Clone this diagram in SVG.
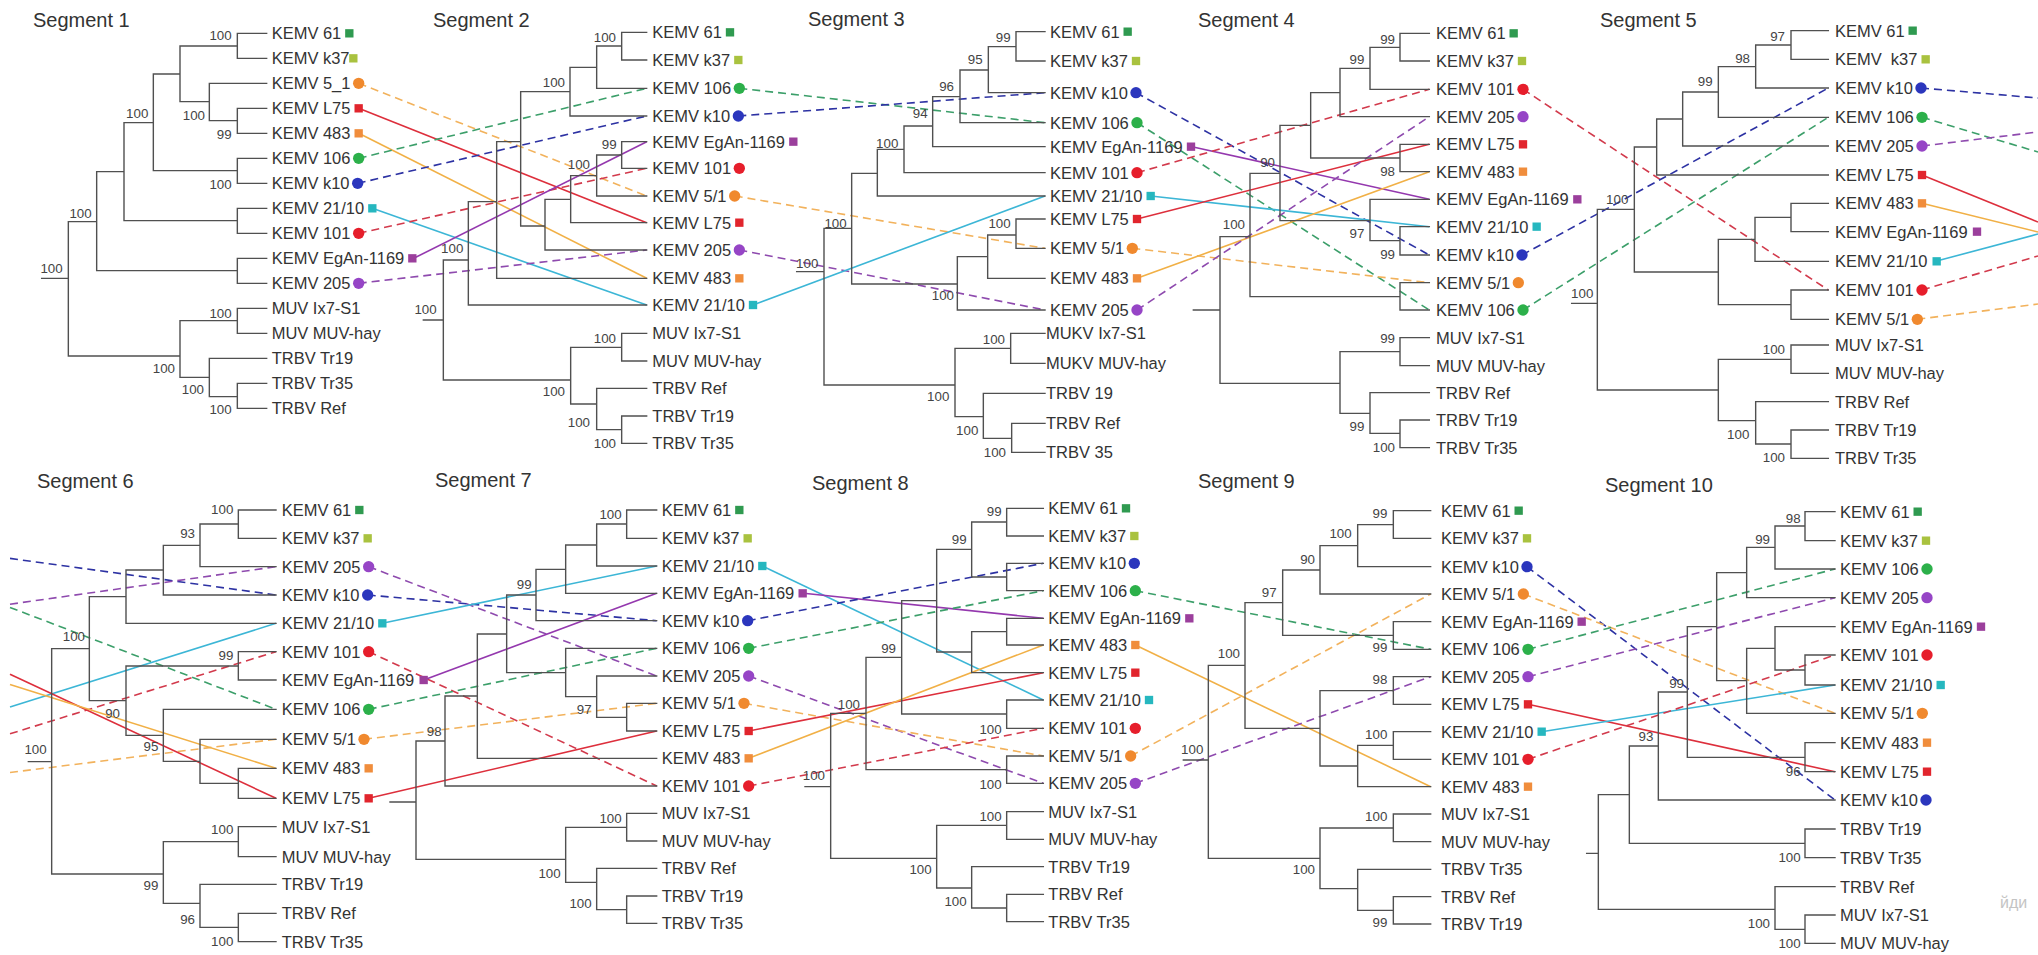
<svg xmlns="http://www.w3.org/2000/svg" xmlns:xlink="http://www.w3.org/1999/xlink" width="2038" height="955" viewBox="0 0 2038 955">
<style>
.tree{fill:none;stroke:#505050;stroke-width:4.2;stroke-linecap:square}
.lbl{font-family:"Liberation Sans",Arial,sans-serif;font-size:49.5px;fill:#333;dominant-baseline:central}
.sup{font-family:"Liberation Sans",Arial,sans-serif;font-size:40px;fill:#444;text-anchor:end;dominant-baseline:central}
.ttl{font-family:"Liberation Sans",Arial,sans-serif;font-size:20px;fill:#333}
.wm{font-family:"Liberation Sans",Arial,sans-serif;font-size:16px;fill:#c4c4c4}
#connectors line{fill:none;stroke-width:1.6}
.d{stroke-dasharray:8 5}
.f61{fill:#2f9a50}.fk37{fill:#a9c23f}.f51{fill:#f0892e}.fL75{fill:#e1252d}.f483{fill:#f08d3c}.f106{fill:#2cb04a}.fk10{fill:#2b36bd}.f2110{fill:#26b7bf}.f101{fill:#e61e2b}.fEg{fill:#9b3f9c}.f205{fill:#9645c6}
.s51{stroke:#f2b25c}.sL75{stroke:#dd2f3c}.s483{stroke:#f1b046}.s106{stroke:#3c9f6a}.sk10{stroke:#2d32a3}.s2110{stroke:#3cb6d6}.s101{stroke:#d23a4c}.sEg{stroke:#9438ae}.s205{stroke:#8e4aae}
</style>
<defs>
<rect id="sq" x="-12.5" y="-12.5" width="25" height="25"/>
<circle id="ci" r="17"/>
</defs>
<rect width="2038" height="955" fill="#fff"/>

<g id="connectors">
<line class="s51 d" x1="358.7" y1="83.3" x2="646.7" y2="196"/>
<line class="sL75" x1="358.7" y1="108.3" x2="646.7" y2="222.7"/>
<line class="s483" x1="358.7" y1="133.3" x2="646.7" y2="278.3"/>
<line class="s106 d" x1="358.7" y1="158.3" x2="646.7" y2="88.3"/>
<line class="sk10 d" x1="357.7" y1="183.3" x2="646.7" y2="116"/>
<line class="s2110" x1="372.3" y1="208.3" x2="646.7" y2="305"/>
<line class="s101 d" x1="358.7" y1="233.3" x2="646.7" y2="168.3"/>
<line class="sEg" x1="413.7" y1="258.3" x2="646.7" y2="141.7"/>
<line class="s205 d" x1="358.7" y1="283.3" x2="646.7" y2="250"/>

<line class="s106 d" x1="739.3" y1="88.3" x2="1045" y2="122.7"/>
<line class="sk10 d" x1="738.3" y1="116" x2="1045" y2="92.7"/>
<line class="s51 d" x1="734.7" y1="196" x2="1045" y2="248.3"/>
<line class="s205 d" x1="739.3" y1="250" x2="1045" y2="310"/>
<line class="s2110" x1="753" y1="305" x2="1045" y2="196"/>

<line class="sk10 d" x1="1136" y1="92.7" x2="1429.3" y2="255"/>
<line class="s106 d" x1="1137" y1="122.7" x2="1429.3" y2="310"/>
<line class="sEg" x1="1192" y1="146.7" x2="1429.3" y2="199.3"/>
<line class="s101 d" x1="1137" y1="172.7" x2="1429.3" y2="89.3"/>
<line class="s2110" x1="1150.7" y1="196" x2="1429.3" y2="226.7"/>
<line class="sL75" x1="1137" y1="219" x2="1429.3" y2="144.3"/>
<line class="s51 d" x1="1132.3" y1="248.3" x2="1429.3" y2="282.7"/>
<line class="s483" x1="1137" y1="278.3" x2="1429.3" y2="171.7"/>
<line class="s205 d" x1="1137" y1="310" x2="1429.3" y2="116.7"/>

<line class="s101 d" x1="1523" y1="89.3" x2="1828.3" y2="290"/>
<line class="sk10 d" x1="1522" y1="255" x2="1828.3" y2="88"/>
<line class="s106 d" x1="1523" y1="310" x2="1828.3" y2="117.3"/>

<line class="sk10 d" x1="1921" y1="88" x2="2038" y2="98"/>
<line class="s106 d" x1="1922" y1="117.3" x2="2038" y2="152"/>
<line class="s205 d" x1="1922" y1="146" x2="2038" y2="132"/>
<line class="sL75" x1="1922" y1="175" x2="2038" y2="222"/>
<line class="s483" x1="1922" y1="203.3" x2="2038" y2="232"/>
<line class="s2110" x1="1935.7" y1="261.3" x2="2038" y2="234"/>
<line class="s101 d" x1="1922" y1="290" x2="2038" y2="256"/>
<line class="s51 d" x1="1917.3" y1="319.3" x2="2038" y2="304"/>

<line class="sk10 d" x1="10" y1="558.4" x2="276" y2="595"/>
<line class="s205 d" x1="10" y1="604.2" x2="276" y2="566.7"/>
<line class="s106 d" x1="10" y1="607.4" x2="276" y2="709.3"/>
<line class="s2110" x1="10" y1="707.1" x2="276" y2="623.3"/>
<line class="s101 d" x1="10" y1="733.8" x2="276" y2="651.7"/>
<line class="s51 d" x1="10" y1="772.5" x2="276" y2="739.3"/>
<line class="sL75" x1="10" y1="674.2" x2="276" y2="798.3"/>
<line class="s483" x1="10" y1="684.6" x2="276" y2="768.3"/>

<line class="s205 d" x1="368.7" y1="566.7" x2="656.7" y2="676"/>
<line class="sk10 d" x1="367.7" y1="595" x2="656.7" y2="620.7"/>
<line class="s2110" x1="382.3" y1="623.3" x2="656.7" y2="566"/>
<line class="s101 d" x1="368.7" y1="651.7" x2="656.7" y2="786"/>
<line class="sEg" x1="423.7" y1="680" x2="656.7" y2="593.3"/>
<line class="s106 d" x1="368.7" y1="709.3" x2="656.7" y2="648.3"/>
<line class="s51 d" x1="364" y1="739.3" x2="656.7" y2="703.3"/>
<line class="sL75" x1="368.7" y1="798.3" x2="656.7" y2="731"/>

<line class="s2110" x1="762.3" y1="566" x2="1043.3" y2="700"/>
<line class="sEg" x1="803.7" y1="593.3" x2="1043.3" y2="618.3"/>
<line class="sk10 d" x1="747.7" y1="620.7" x2="1043.3" y2="563.3"/>
<line class="s106 d" x1="748.7" y1="648.3" x2="1043.3" y2="590.7"/>
<line class="s205 d" x1="748.7" y1="676" x2="1043.3" y2="783.3"/>
<line class="s51 d" x1="744" y1="703.3" x2="1043.3" y2="756"/>
<line class="sL75" x1="748.7" y1="731" x2="1043.3" y2="672.7"/>
<line class="s483" x1="748.7" y1="758.3" x2="1043.3" y2="645"/>
<line class="s101 d" x1="748.7" y1="786" x2="1043.3" y2="728.3"/>

<line class="s106 d" x1="1135.3" y1="590.7" x2="1430.7" y2="649.3"/>
<line class="s483" x1="1135.3" y1="645" x2="1430.7" y2="786.7"/>
<line class="s51 d" x1="1130.7" y1="756" x2="1430.7" y2="594"/>
<line class="s205 d" x1="1135.3" y1="783.3" x2="1430.7" y2="676.7"/>

<line class="sk10 d" x1="1527" y1="566.7" x2="1835" y2="800"/>
<line class="s51 d" x1="1523.3" y1="594" x2="1835" y2="713.3"/>
<line class="s106 d" x1="1528" y1="649.3" x2="1835" y2="569"/>
<line class="s205 d" x1="1528" y1="676.7" x2="1835" y2="597.7"/>
<line class="sL75" x1="1528" y1="704.3" x2="1835" y2="771.7"/>
<line class="s2110" x1="1541.7" y1="731.7" x2="1835" y2="685"/>
<line class="s101 d" x1="1528" y1="759.3" x2="1835" y2="655"/>
</g>

<g id="titles">
<text class="ttl" x="33" y="27">Segment 1</text>
<text class="ttl" x="433" y="27">Segment 2</text>
<text class="ttl" x="808" y="26">Segment 3</text>
<text class="ttl" x="1198" y="27">Segment 4</text>
<text class="ttl" x="1600" y="27">Segment 5</text>
<text class="ttl" x="37" y="488">Segment 6</text>
<text class="ttl" x="435" y="487">Segment 7</text>
<text class="ttl" x="812" y="490">Segment 8</text>
<text class="ttl" x="1198" y="488">Segment 9</text>
<text class="ttl" x="1605" y="492">Segment 10</text>
</g>

<g id="segment-1" transform="translate(0,0) scale(0.333333)">
<path class="tree" d="M800,100H712V175H800M712,138H540V305H628M800,250H628V362H712M800,325H712V400H800M540,222H460V512H712M800,475H712V550H800M460,368H372V662H712M800,625H712V700H800M372,515H290V812H712M800,775H712V850H800M290,665H205V1068H540M205,835H125M712,962H540V1132H628M800,925H712V1000H800M800,1075H628V1190H712M800,1150H712V1225H800"/>
<text class="lbl" x="815" y="100">KEMV 61</text>
<text class="lbl" x="815" y="175">KEMV k37</text>
<text class="lbl" x="815" y="250">KEMV 5_1</text>
<text class="lbl" x="815" y="325">KEMV L75</text>
<text class="lbl" x="815" y="400">KEMV 483</text>
<text class="lbl" x="815" y="475">KEMV 106</text>
<text class="lbl" x="815" y="550">KEMV k10</text>
<text class="lbl" x="815" y="625">KEMV 21/10</text>
<text class="lbl" x="815" y="700">KEMV 101</text>
<text class="lbl" x="815" y="775">KEMV EgAn-1169</text>
<text class="lbl" x="815" y="850">KEMV 205</text>
<text class="lbl" x="815" y="925">MUV Ix7-S1</text>
<text class="lbl" x="815" y="1000">MUV MUV-hay</text>
<text class="lbl" x="815" y="1075">TRBV Tr19</text>
<text class="lbl" x="815" y="1150">TRBV Tr35</text>
<text class="lbl" x="815" y="1225">TRBV Ref</text>
<text class="sup" x="695" y="108">100</text>
<text class="sup" x="615" y="348">100</text>
<text class="sup" x="695" y="405">99</text>
<text class="sup" x="445" y="340">100</text>
<text class="sup" x="695" y="555">100</text>
<text class="sup" x="275" y="640">100</text>
<text class="sup" x="188" y="805">100</text>
<text class="sup" x="695" y="940">100</text>
<text class="sup" x="525" y="1105">100</text>
<text class="sup" x="612" y="1170">100</text>
<text class="sup" x="695" y="1228">100</text>
<use href="#sq" x="1048" y="100" class="f61"/>
<use href="#sq" x="1060" y="175" class="fk37"/>
<use href="#ci" x="1076" y="250" class="f51"/>
<use href="#sq" x="1076" y="325" class="fL75"/>
<use href="#sq" x="1076" y="400" class="f483"/>
<use href="#ci" x="1076" y="475" class="f106"/>
<use href="#ci" x="1073" y="550" class="fk10"/>
<use href="#sq" x="1117" y="625" class="f2110"/>
<use href="#ci" x="1076" y="700" class="f101"/>
<use href="#sq" x="1237" y="775" class="fEg"/>
<use href="#ci" x="1076" y="850" class="f205"/>
</g>

<g id="segment-2" transform="translate(400,0) scale(0.333333)">
<path class="tree" d="M740,97H665V180H740M665,138H590V265H740M590,202H510V348H740M510,275H362V678H435M740,425H665V505H740M665,465H590V588H740M590,527H512V668H740M512,598H435V750H740M362,425H290V835H740M290,605H205V915H740M205,780H130V1140H512M130,960H70M665,1042H512V1212H590M740,1000H665V1083H740M740,1165H590V1289H665M740,1248H665V1330H740"/>
<text class="lbl" x="757" y="97">KEMV 61</text>
<text class="lbl" x="757" y="180">KEMV k37</text>
<text class="lbl" x="757" y="265">KEMV 106</text>
<text class="lbl" x="757" y="348">KEMV k10</text>
<text class="lbl" x="757" y="425">KEMV EgAn-1169</text>
<text class="lbl" x="757" y="505">KEMV 101</text>
<text class="lbl" x="757" y="588">KEMV 5/1</text>
<text class="lbl" x="757" y="668">KEMV L75</text>
<text class="lbl" x="757" y="750">KEMV 205</text>
<text class="lbl" x="757" y="835">KEMV 483</text>
<text class="lbl" x="757" y="915">KEMV 21/10</text>
<text class="lbl" x="757" y="1000">MUV Ix7-S1</text>
<text class="lbl" x="757" y="1083">MUV MUV-hay</text>
<text class="lbl" x="757" y="1165">TRBV Ref</text>
<text class="lbl" x="757" y="1248">TRBV Tr19</text>
<text class="lbl" x="757" y="1330">TRBV Tr35</text>
<text class="sup" x="648" y="112">100</text>
<text class="sup" x="495" y="248">100</text>
<text class="sup" x="650" y="435">99</text>
<text class="sup" x="570" y="495">100</text>
<text class="sup" x="190" y="745">100</text>
<text class="sup" x="110" y="930">100</text>
<text class="sup" x="648" y="1015">100</text>
<text class="sup" x="495" y="1175">100</text>
<text class="sup" x="570" y="1268">100</text>
<text class="sup" x="648" y="1330">100</text>
<use href="#sq" x="990" y="97" class="f61"/>
<use href="#sq" x="1015" y="180" class="fk37"/>
<use href="#ci" x="1018" y="265" class="f106"/>
<use href="#ci" x="1015" y="348" class="fk10"/>
<use href="#sq" x="1180" y="425" class="fEg"/>
<use href="#ci" x="1018" y="505" class="f101"/>
<use href="#ci" x="1004" y="588" class="f51"/>
<use href="#sq" x="1018" y="668" class="fL75"/>
<use href="#ci" x="1018" y="750" class="f205"/>
<use href="#sq" x="1018" y="835" class="f483"/>
<use href="#sq" x="1059" y="915" class="f2110"/>
</g>

<g id="segment-3" transform="translate(800,0) scale(0.333333)">
<path class="tree" d="M735,95H648V183H735M648,140H565V278H735M565,210H480V368H735M480,290H398V440H735M398,378H312V518H735M312,448H232V588H735M232,520H155V852H472M735,657H648V745H735M648,705H563V835H735M563,770H472V930H735M155,685H72V1155H465M72,815H-10M632,1045H465V1250H550M735,1000H632V1090H735M735,1180H550V1315H635M735,1270H635V1357H735"/>
<text class="lbl" x="750" y="95">KEMV 61</text>
<text class="lbl" x="750" y="183">KEMV k37</text>
<text class="lbl" x="750" y="278">KEMV k10</text>
<text class="lbl" x="750" y="368">KEMV 106</text>
<text class="lbl" x="750" y="440">KEMV EgAn-1169</text>
<text class="lbl" x="750" y="518">KEMV 101</text>
<text class="lbl" x="750" y="588">KEMV 21/10</text>
<text class="lbl" x="750" y="657">KEMV L75</text>
<text class="lbl" x="750" y="745">KEMV 5/1</text>
<text class="lbl" x="750" y="835">KEMV 483</text>
<text class="lbl" x="750" y="930">KEMV 205</text>
<text class="lbl" x="738" y="1000">MUKV Ix7-S1</text>
<text class="lbl" x="738" y="1090">MUKV MUV-hay</text>
<text class="lbl" x="738" y="1180">TRBV 19</text>
<text class="lbl" x="738" y="1270">TRBV Ref</text>
<text class="lbl" x="738" y="1357">TRBV 35</text>
<text class="sup" x="632" y="112">99</text>
<text class="sup" x="548" y="180">95</text>
<text class="sup" x="462" y="260">96</text>
<text class="sup" x="383" y="340">94</text>
<text class="sup" x="295" y="432">100</text>
<text class="sup" x="140" y="670">100</text>
<text class="sup" x="55" y="790">100</text>
<text class="sup" x="632" y="672">100</text>
<text class="sup" x="462" y="888">100</text>
<text class="sup" x="615" y="1018">100</text>
<text class="sup" x="448" y="1190">100</text>
<text class="sup" x="535" y="1292">100</text>
<text class="sup" x="618" y="1357">100</text>
<use href="#sq" x="983" y="95" class="f61"/>
<use href="#sq" x="1008" y="183" class="fk37"/>
<use href="#ci" x="1008" y="278" class="fk10"/>
<use href="#ci" x="1011" y="368" class="f106"/>
<use href="#sq" x="1173" y="440" class="fEg"/>
<use href="#ci" x="1011" y="518" class="f101"/>
<use href="#sq" x="1052" y="588" class="f2110"/>
<use href="#sq" x="1011" y="657" class="fL75"/>
<use href="#ci" x="997" y="745" class="f51"/>
<use href="#sq" x="1011" y="835" class="f483"/>
<use href="#ci" x="1011" y="930" class="f205"/>
</g>

<g id="segment-4" transform="translate(1180,0) scale(0.333333)">
<path class="tree" d="M748,100H660V183H748M660,142H570V268H748M570,205H480V350H748M480,278H392V474H660M748,433H660V515H748M392,376H300V662H570M748,598H570V722H660M748,680H660V765H748M300,520H210V890H660M748,848H660V930H748M210,710H120V1150H480M120,930H40M660,1055H480V1240H570M748,1013H660V1097H748M748,1178H570V1300H660M748,1260H660V1343H748"/>
<text class="lbl" x="768" y="100">KEMV 61</text>
<text class="lbl" x="768" y="183">KEMV k37</text>
<text class="lbl" x="768" y="268">KEMV 101</text>
<text class="lbl" x="768" y="350">KEMV 205</text>
<text class="lbl" x="768" y="433">KEMV L75</text>
<text class="lbl" x="768" y="515">KEMV 483</text>
<text class="lbl" x="768" y="598">KEMV EgAn-1169</text>
<text class="lbl" x="768" y="680">KEMV 21/10</text>
<text class="lbl" x="768" y="765">KEMV k10</text>
<text class="lbl" x="768" y="848">KEMV 5/1</text>
<text class="lbl" x="768" y="930">KEMV 106</text>
<text class="lbl" x="768" y="1013">MUV Ix7-S1</text>
<text class="lbl" x="768" y="1097">MUV MUV-hay</text>
<text class="lbl" x="768" y="1178">TRBV Ref</text>
<text class="lbl" x="768" y="1260">TRBV Tr19</text>
<text class="lbl" x="768" y="1343">TRBV Tr35</text>
<text class="sup" x="645" y="118">99</text>
<text class="sup" x="553" y="178">99</text>
<text class="sup" x="645" y="515">98</text>
<text class="sup" x="285" y="488">90</text>
<text class="sup" x="553" y="700">97</text>
<text class="sup" x="645" y="765">99</text>
<text class="sup" x="195" y="675">100</text>
<text class="sup" x="645" y="1015">99</text>
<text class="sup" x="553" y="1280">99</text>
<text class="sup" x="645" y="1343">100</text>
<use href="#sq" x="1001" y="100" class="f61"/>
<use href="#sq" x="1026" y="183" class="fk37"/>
<use href="#ci" x="1029" y="268" class="f101"/>
<use href="#ci" x="1029" y="350" class="f205"/>
<use href="#sq" x="1029" y="433" class="fL75"/>
<use href="#sq" x="1029" y="515" class="f483"/>
<use href="#sq" x="1192" y="598" class="fEg"/>
<use href="#sq" x="1070" y="680" class="f2110"/>
<use href="#ci" x="1026" y="765" class="fk10"/>
<use href="#ci" x="1015" y="848" class="f51"/>
<use href="#ci" x="1029" y="930" class="f106"/>
</g>

<g id="segment-5" transform="translate(1590,0) scale(0.333333)">
<path class="tree" d="M715,92H603V178H715M603,135H497V264H715M497,200H385V352H715M385,276H278V438H715M278,357H200V525H715M715,610H603V695H715M603,652H495V784H715M715,870H603V958H715M495,718H385V914H603M200,441H133V816H385M133,628H22V1170H385M22,910H-55M603,1078H385V1262H497M715,1035H603V1120H715M715,1205H497V1332H603M715,1290H603V1375H715"/>
<text class="lbl" x="735" y="92">KEMV 61</text>
<text class="lbl" x="735" y="178" xml:space="preserve">KEMV  k37</text>
<text class="lbl" x="735" y="264">KEMV k10</text>
<text class="lbl" x="735" y="352">KEMV 106</text>
<text class="lbl" x="735" y="438">KEMV 205</text>
<text class="lbl" x="735" y="525">KEMV L75</text>
<text class="lbl" x="735" y="610">KEMV 483</text>
<text class="lbl" x="735" y="695">KEMV EgAn-1169</text>
<text class="lbl" x="735" y="784">KEMV 21/10</text>
<text class="lbl" x="735" y="870">KEMV 101</text>
<text class="lbl" x="735" y="958">KEMV 5/1</text>
<text class="lbl" x="735" y="1035">MUV Ix7-S1</text>
<text class="lbl" x="735" y="1120">MUV MUV-hay</text>
<text class="lbl" x="735" y="1205">TRBV Ref</text>
<text class="lbl" x="735" y="1290">TRBV Tr19</text>
<text class="lbl" x="735" y="1375">TRBV Tr35</text>
<text class="sup" x="585" y="110">97</text>
<text class="sup" x="480" y="175">98</text>
<text class="sup" x="368" y="245">99</text>
<text class="sup" x="115" y="600">100</text>
<text class="sup" x="10" y="880">100</text>
<text class="sup" x="585" y="1048">100</text>
<text class="sup" x="478" y="1305">100</text>
<text class="sup" x="585" y="1372">100</text>
<use href="#sq" x="968" y="92" class="f61"/>
<use href="#sq" x="1007" y="178" class="fk37"/>
<use href="#ci" x="993" y="264" class="fk10"/>
<use href="#ci" x="996" y="352" class="f106"/>
<use href="#ci" x="996" y="438" class="f205"/>
<use href="#sq" x="996" y="525" class="fL75"/>
<use href="#sq" x="996" y="610" class="f483"/>
<use href="#sq" x="1161" y="695" class="fEg"/>
<use href="#sq" x="1040" y="784" class="f2110"/>
<use href="#ci" x="996" y="870" class="f101"/>
<use href="#ci" x="982" y="958" class="f51"/>
</g>

<g id="segment-6" transform="translate(0,470) scale(0.333333)">
<path class="tree" d="M828,120H715V205H828M715,162H600V290H828M600,226H490V375H828M490,300H378V460H828M828,545H715V630H828M828,895H715V985H828M828,808H600V940H715M828,718H490V874H600M715,588H378V796H490M378,380H268V692H378M268,536H155V1212H490M155,875H85M715,1115H490V1300H600M828,1070H715V1160H828M828,1243H600V1372H715M828,1330H715V1415H828"/>
<text class="lbl" x="845" y="120">KEMV 61</text>
<text class="lbl" x="845" y="205">KEMV k37</text>
<text class="lbl" x="845" y="290">KEMV 205</text>
<text class="lbl" x="845" y="375">KEMV k10</text>
<text class="lbl" x="845" y="460">KEMV 21/10</text>
<text class="lbl" x="845" y="545">KEMV 101</text>
<text class="lbl" x="845" y="630">KEMV EgAn-1169</text>
<text class="lbl" x="845" y="718">KEMV 106</text>
<text class="lbl" x="845" y="808">KEMV 5/1</text>
<text class="lbl" x="845" y="895">KEMV 483</text>
<text class="lbl" x="845" y="985">KEMV L75</text>
<text class="lbl" x="845" y="1070">MUV Ix7-S1</text>
<text class="lbl" x="845" y="1160">MUV MUV-hay</text>
<text class="lbl" x="845" y="1243">TRBV Tr19</text>
<text class="lbl" x="845" y="1330">TRBV Ref</text>
<text class="lbl" x="845" y="1415">TRBV Tr35</text>
<text class="sup" x="700" y="120">100</text>
<text class="sup" x="585" y="190">93</text>
<text class="sup" x="700" y="558">99</text>
<text class="sup" x="255" y="500">100</text>
<text class="sup" x="360" y="730">90</text>
<text class="sup" x="475" y="830">95</text>
<text class="sup" x="140" y="840">100</text>
<text class="sup" x="700" y="1080">100</text>
<text class="sup" x="475" y="1248">99</text>
<text class="sup" x="585" y="1350">96</text>
<text class="sup" x="700" y="1415">100</text>
<use href="#sq" x="1078" y="120" class="f61"/>
<use href="#sq" x="1103" y="205" class="fk37"/>
<use href="#ci" x="1106" y="290" class="f205"/>
<use href="#ci" x="1103" y="375" class="fk10"/>
<use href="#sq" x="1147" y="460" class="f2110"/>
<use href="#ci" x="1106" y="545" class="f101"/>
<use href="#sq" x="1271" y="630" class="fEg"/>
<use href="#ci" x="1106" y="718" class="f106"/>
<use href="#ci" x="1092" y="808" class="f51"/>
<use href="#sq" x="1106" y="895" class="f483"/>
<use href="#sq" x="1106" y="985" class="fL75"/>
</g>

<g id="segment-7" transform="translate(400,470) scale(0.333333)">
<path class="tree" d="M770,120H680V205H770M680,162H590V288H770M590,225H497V370H770M497,298H408V452H770M770,700H680V783H770M770,618H590V742H680M770,535H497V680H590M408,375H320V608H497M320,492H232V865H770M232,678H135V948H770M135,813H48V1168H497M48,996H-30M680,1072H497V1237H590M770,1030H680V1113H770M770,1195H590V1319H680M770,1278H680V1360H770"/>
<text class="lbl" x="785" y="120">KEMV 61</text>
<text class="lbl" x="785" y="205">KEMV k37</text>
<text class="lbl" x="785" y="288">KEMV 21/10</text>
<text class="lbl" x="785" y="370">KEMV EgAn-1169</text>
<text class="lbl" x="785" y="452">KEMV k10</text>
<text class="lbl" x="785" y="535">KEMV 106</text>
<text class="lbl" x="785" y="618">KEMV 205</text>
<text class="lbl" x="785" y="700">KEMV 5/1</text>
<text class="lbl" x="785" y="783">KEMV L75</text>
<text class="lbl" x="785" y="865">KEMV 483</text>
<text class="lbl" x="785" y="948">KEMV 101</text>
<text class="lbl" x="785" y="1030">MUV Ix7-S1</text>
<text class="lbl" x="785" y="1113">MUV MUV-hay</text>
<text class="lbl" x="785" y="1195">TRBV Ref</text>
<text class="lbl" x="785" y="1278">TRBV Tr19</text>
<text class="lbl" x="785" y="1360">TRBV Tr35</text>
<text class="sup" x="665" y="135">100</text>
<text class="sup" x="395" y="345">99</text>
<text class="sup" x="575" y="718">97</text>
<text class="sup" x="125" y="785">98</text>
<text class="sup" x="665" y="1045">100</text>
<text class="sup" x="482" y="1210">100</text>
<text class="sup" x="575" y="1300">100</text>
<use href="#sq" x="1018" y="120" class="f61"/>
<use href="#sq" x="1043" y="205" class="fk37"/>
<use href="#sq" x="1087" y="288" class="f2110"/>
<use href="#sq" x="1208" y="370" class="fEg"/>
<use href="#ci" x="1043" y="452" class="fk10"/>
<use href="#ci" x="1046" y="535" class="f106"/>
<use href="#ci" x="1046" y="618" class="f205"/>
<use href="#ci" x="1032" y="700" class="f51"/>
<use href="#sq" x="1046" y="783" class="fL75"/>
<use href="#sq" x="1046" y="865" class="f483"/>
<use href="#ci" x="1046" y="948" class="f101"/>
</g>

<g id="segment-8" transform="translate(790,470) scale(0.333333)">
<path class="tree" d="M760,115H650V198H760M760,280H650V362H760M650,156H545V321H650M760,445H650V525H760M650,485H545V608H760M545,238H440V546H545M760,690H650V775H760M440,392H335V732H650M760,858H650V940H760M335,562H228V899H650M228,730H122V1165H440M122,950H45M650,1066H440V1254H545M760,1025H650V1108H760M760,1190H545V1314H650M760,1273H650V1355H760"/>
<text class="lbl" x="775" y="115">KEMV 61</text>
<text class="lbl" x="775" y="198">KEMV k37</text>
<text class="lbl" x="775" y="280">KEMV k10</text>
<text class="lbl" x="775" y="362">KEMV 106</text>
<text class="lbl" x="775" y="445">KEMV EgAn-1169</text>
<text class="lbl" x="775" y="525">KEMV 483</text>
<text class="lbl" x="775" y="608">KEMV L75</text>
<text class="lbl" x="775" y="690">KEMV 21/10</text>
<text class="lbl" x="775" y="775">KEMV 101</text>
<text class="lbl" x="775" y="858">KEMV 5/1</text>
<text class="lbl" x="775" y="940">KEMV 205</text>
<text class="lbl" x="775" y="1025">MUV Ix7-S1</text>
<text class="lbl" x="775" y="1108">MUV MUV-hay</text>
<text class="lbl" x="775" y="1190">TRBV Tr19</text>
<text class="lbl" x="775" y="1273">TRBV Ref</text>
<text class="lbl" x="775" y="1355">TRBV Tr35</text>
<text class="sup" x="635" y="125">99</text>
<text class="sup" x="530" y="210">99</text>
<text class="sup" x="318" y="535">99</text>
<text class="sup" x="635" y="778">100</text>
<text class="sup" x="635" y="943">100</text>
<text class="sup" x="210" y="705">100</text>
<text class="sup" x="105" y="918">100</text>
<text class="sup" x="635" y="1040">100</text>
<text class="sup" x="425" y="1200">100</text>
<text class="sup" x="530" y="1295">100</text>
<use href="#sq" x="1008" y="115" class="f61"/>
<use href="#sq" x="1033" y="198" class="fk37"/>
<use href="#ci" x="1033" y="280" class="fk10"/>
<use href="#ci" x="1036" y="362" class="f106"/>
<use href="#sq" x="1198" y="445" class="fEg"/>
<use href="#sq" x="1036" y="525" class="f483"/>
<use href="#sq" x="1036" y="608" class="fL75"/>
<use href="#sq" x="1077" y="690" class="f2110"/>
<use href="#ci" x="1036" y="775" class="f101"/>
<use href="#ci" x="1022" y="858" class="f51"/>
<use href="#ci" x="1036" y="940" class="f205"/>
</g>

<g id="segment-9" transform="translate(1180,470) scale(0.333333)">
<path class="tree" d="M752,122H640V205H752M640,164H533V290H752M533,227H420V372H752M420,300H308V496H640M752,455H640V538H752M752,620H640V703H752M752,785H640V868H752M640,826H533V950H752M640,662H420V888H533M308,398H195V775H420M195,586H85V1165H420M85,870H10M640,1074H420V1256H533M752,1032H640V1115H752M752,1198H533V1321H640M752,1280H640V1362H752"/>
<text class="lbl" x="783" y="122">KEMV 61</text>
<text class="lbl" x="783" y="205">KEMV k37</text>
<text class="lbl" x="783" y="290">KEMV k10</text>
<text class="lbl" x="783" y="372">KEMV 5/1</text>
<text class="lbl" x="783" y="455">KEMV EgAn-1169</text>
<text class="lbl" x="783" y="538">KEMV 106</text>
<text class="lbl" x="783" y="620">KEMV 205</text>
<text class="lbl" x="783" y="703">KEMV L75</text>
<text class="lbl" x="783" y="785">KEMV 21/10</text>
<text class="lbl" x="783" y="868">KEMV 101</text>
<text class="lbl" x="783" y="950">KEMV 483</text>
<text class="lbl" x="783" y="1032">MUV Ix7-S1</text>
<text class="lbl" x="783" y="1115">MUV MUV-hay</text>
<text class="lbl" x="783" y="1198">TRBV Tr35</text>
<text class="lbl" x="783" y="1280">TRBV Ref</text>
<text class="lbl" x="783" y="1362">TRBV Tr19</text>
<text class="sup" x="622" y="132">99</text>
<text class="sup" x="515" y="192">100</text>
<text class="sup" x="405" y="268">90</text>
<text class="sup" x="290" y="368">97</text>
<text class="sup" x="622" y="532">99</text>
<text class="sup" x="622" y="628">98</text>
<text class="sup" x="622" y="793">100</text>
<text class="sup" x="180" y="552">100</text>
<text class="sup" x="70" y="838">100</text>
<text class="sup" x="622" y="1040">100</text>
<text class="sup" x="405" y="1200">100</text>
<text class="sup" x="622" y="1358">99</text>
<use href="#sq" x="1016" y="122" class="f61"/>
<use href="#sq" x="1041" y="205" class="fk37"/>
<use href="#ci" x="1041" y="290" class="fk10"/>
<use href="#ci" x="1030" y="372" class="f51"/>
<use href="#sq" x="1205" y="455" class="fEg"/>
<use href="#ci" x="1044" y="538" class="f106"/>
<use href="#ci" x="1044" y="620" class="f205"/>
<use href="#sq" x="1044" y="703" class="fL75"/>
<use href="#sq" x="1085" y="785" class="f2110"/>
<use href="#ci" x="1044" y="868" class="f101"/>
<use href="#sq" x="1044" y="950" class="f483"/>
</g>

<g id="segment-10" transform="translate(1590,470) scale(0.333333)">
<path class="tree" d="M735,125H645V212H735M645,168H555V297H735M555,232H470V383H735M735,555H645V645H735M735,470H555V600H645M555,535H470V730H735M470,308H380V632H470M735,818H645V905H735M380,470H292V862H645M292,666H205V990H735M205,828H118V1120H645M735,1077H645V1163H735M118,974H25V1318H555M25,1150H-10M735,1250H555V1378H645M735,1335H645V1420H735"/>
<text class="lbl" x="750" y="125">KEMV 61</text>
<text class="lbl" x="750" y="212">KEMV k37</text>
<text class="lbl" x="750" y="297">KEMV 106</text>
<text class="lbl" x="750" y="383">KEMV 205</text>
<text class="lbl" x="750" y="470">KEMV EgAn-1169</text>
<text class="lbl" x="750" y="555">KEMV 101</text>
<text class="lbl" x="750" y="645">KEMV 21/10</text>
<text class="lbl" x="750" y="730">KEMV 5/1</text>
<text class="lbl" x="750" y="818">KEMV 483</text>
<text class="lbl" x="750" y="905">KEMV L75</text>
<text class="lbl" x="750" y="990">KEMV k10</text>
<text class="lbl" x="750" y="1077">TRBV Tr19</text>
<text class="lbl" x="750" y="1163">TRBV Tr35</text>
<text class="lbl" x="750" y="1250">TRBV Ref</text>
<text class="lbl" x="750" y="1335">MUV Ix7-S1</text>
<text class="lbl" x="750" y="1420">MUV MUV-hay</text>
<text class="sup" x="632" y="145">98</text>
<text class="sup" x="540" y="210">99</text>
<text class="sup" x="282" y="640">99</text>
<text class="sup" x="190" y="800">93</text>
<text class="sup" x="632" y="905">96</text>
<text class="sup" x="632" y="1163">100</text>
<text class="sup" x="540" y="1360">100</text>
<text class="sup" x="632" y="1420">100</text>
<use href="#sq" x="983" y="125" class="f61"/>
<use href="#sq" x="1008" y="212" class="fk37"/>
<use href="#ci" x="1011" y="297" class="f106"/>
<use href="#ci" x="1011" y="383" class="f205"/>
<use href="#sq" x="1173" y="470" class="fEg"/>
<use href="#ci" x="1011" y="555" class="f101"/>
<use href="#sq" x="1052" y="645" class="f2110"/>
<use href="#ci" x="997" y="730" class="f51"/>
<use href="#sq" x="1011" y="818" class="f483"/>
<use href="#sq" x="1011" y="905" class="fL75"/>
<use href="#ci" x="1008" y="990" class="fk10"/>
</g>

<text class="wm" x="2000" y="908">йди</text>
</svg>
